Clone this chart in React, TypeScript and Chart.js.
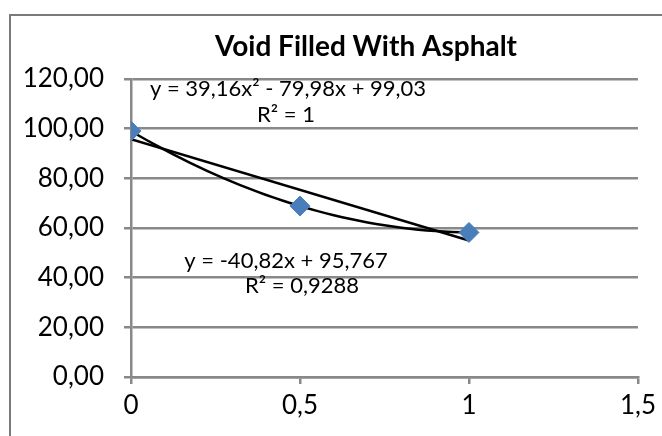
import React, { useEffect, useRef } from "react";
import { Chart, registerables } from "chart.js";

Chart.register(...registerables);

const xValues = [0, 0.5, 1];
const yValues = [99.03, 68.83, 58.21];
const polyCoef = [99.03, -79.98, 39.16]; // c0 + c1 x + c2 x^2
const linCoef = [95.767, -40.82];
const xTicks = [0, 0.5, 1, 1.5];
const yTicks = [0, 20, 40, 60, 80, 100, 120];
const titleText = "Void Filled With Asphalt";
const polyLabel = ["y = 39,16x² - 79,98x + 99,03", "R² = 1"];
const linLabel = ["y = -40,82x + 95,767", "R² = 0,9288"];

const FONT = "Lato, 'Liberation Sans', sans-serif";
const GRID = "#888888";

export default function App() {
  const ref = useRef<HTMLCanvasElement | null>(null);
  useEffect(() => {
    document.body.style.margin = "0";
    const steps: number[] = [];
    for (let i = 0; i <= 40; i++) steps.push(i / 40);
    const polyPts = steps.map((x) => ({ x, y: polyCoef[0] + polyCoef[1] * x + polyCoef[2] * x * x }));
    const linPts = [0, 1].map((x) => ({ x, y: linCoef[0] + linCoef[1] * x }));

    const deco = {
      id: "deco",
      beforeDraw(chart: any) {
        const c = chart.ctx;
        c.save();
        c.fillStyle = "#fff";
        c.fillRect(0, 0, chart.width, chart.height);
        c.strokeStyle = "#7a7a7a";
        c.lineWidth = 2;
        c.strokeRect(10, 15, chart.width + 20, chart.height + 20);
        c.restore();
      },
      afterDraw(chart: any) {
        const c = chart.ctx;
        c.save();
        c.fillStyle = "#000";
        c.textAlign = "center";
        c.textBaseline = "middle";
        c.font = `bold 28px ${FONT}`;
        c.fillText(titleText, 366, 47);
        c.font = `22px ${FONT}`;
        c.fillText(polyLabel[0], 288, 89);
        c.fillText(polyLabel[1], 286, 115);
        c.fillText(linLabel[0], 286, 261);
        c.fillText(linLabel[1], 302, 286);
        c.restore();
      },
    };

    const chart = new Chart(ref.current!, {
      type: "scatter",
      data: {
        datasets: [
          {
            label: "poly",
            data: polyPts,
            showLine: true,
            borderColor: "#000",
            borderWidth: 2.5,
            pointRadius: 0,
            tension: 0,
            order: 2,
          } as any,
          {
            label: "lin",
            data: linPts,
            showLine: true,
            borderColor: "#000",
            borderWidth: 2.5,
            pointRadius: 0,
            order: 3,
          } as any,
          {
            label: "data",
            data: xValues.map((x, i) => ({ x, y: yValues[i] })),
            pointStyle: "rectRot",
            pointRadius: 10,
            backgroundColor: "#4a7ebb",
            borderColor: "#4a7ebb",
            order: 1,
          } as any,
        ],
      },
      options: {
        animation: false,
        responsive: false,
        layout: { padding: { top: 79, right: 22, left: 0, bottom: 0 } },
        plugins: { legend: { display: false }, title: { display: false }, tooltip: { enabled: false } },
        scales: {
          x: {
            type: "linear",
            min: 0,
            max: 1.5,
            afterBuildTicks: (s: any) => { s.ticks = xTicks.map((v) => ({ value: v })); },
            afterFit: (s: any) => { s.height = 59; },
            ticks: {
              color: "#000",
              font: { family: FONT, size: 26 },
              padding: 6,
              callback: (v: any) => String(v).replace(".", ","),
            },
            grid: { drawOnChartArea: false, drawTicks: true, tickLength: 7, color: GRID, lineWidth: 2.5 },
            border: { color: GRID, width: 2.5 },
          },
          y: {
            type: "linear",
            min: 0,
            max: 120,
            afterBuildTicks: (s: any) => { s.ticks = yTicks.map((v) => ({ value: v })); },
            afterFit: (s: any) => { s.width = 131; },
            ticks: {
              color: "#000",
              font: { family: FONT, size: 26 },
              padding: 20,
              callback: (v: any) => Number(v).toFixed(2).replace(".", ","),
            },
            grid: { color: GRID, lineWidth: 2.5, tickLength: 7, drawTicks: true },
            border: { color: GRID, width: 2.5 },
          },
        },
      },
      plugins: [deco],
    });
    return () => chart.destroy();
  }, []);
  return (
    <div style={{ position: "absolute", left: 0, top: 0, width: 662, height: 436 }}>
      <canvas ref={ref} width={662} height={436} />
    </div>
  );
}
